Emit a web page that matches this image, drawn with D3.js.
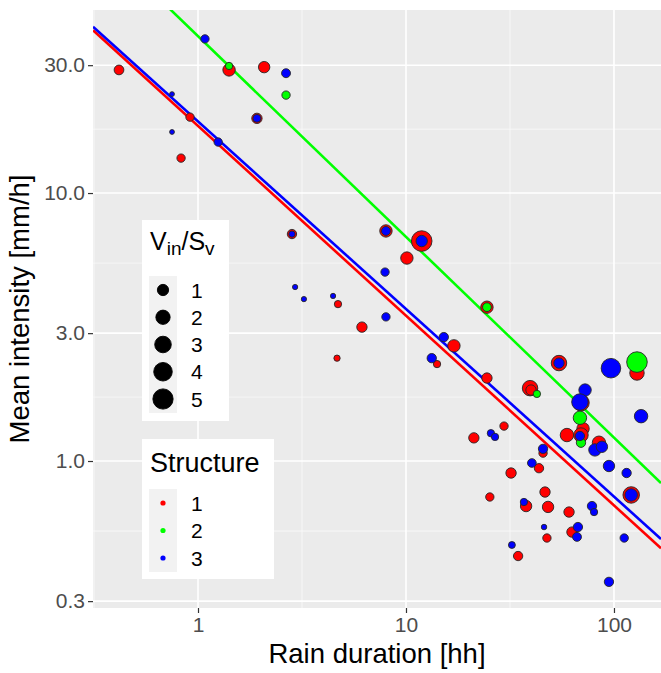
<!DOCTYPE html>
<html>
<head>
<meta charset="utf-8">
<script src="https://cdn.jsdelivr.net/npm/d3@7"></script>
<style>
  body { margin: 0; background: #fff; }
  text { font-family: "Liberation Sans", Arial, sans-serif; }
</style>
</head>
<body>
<div class="main"></div>
<script>
// rain events, one set of arrays per structure (duration hh, mean intensity mm/h, Vin/Sv)
const structures = ["1", "2", "3"];

const dur1 = [0.417, 0.829, 0.915, 1.41, 2.08, 1.92, 2.83, 4.71, 8.01, 11.9, 10.1, 6.14, 4.66, 24.5, 17.0, 14.1, 24.5, 54.4, 129, 39.5,
    39.9, 69.4, 29.6, 59.4, 71.0, 69.4, 84.7, 45.6, 43.6, 21.2, 32.0, 25.3, 46.6, 37.8, 48.2, 60.8, 47.6, 62.8, 34.6, 121];
const int1 = [28.8, 13.5, 19.2, 28.8, 29.5, 19.0, 7.03, 3.85, 7.22, 6.62, 5.72, 3.16, 2.42, 3.75, 2.69, 2.30, 2.04, 2.32, 2.13, 1.87,
    1.84, 1.65, 1.35, 1.25, 1.32, 1.25, 1.17, 1.07, 0.94, 1.22, 0.902, 0.734, 0.766, 0.679, 0.674, 0.645, 0.516, 0.543, 0.442, 0.747];
const vin1 = [0.81, 0.5, 0.5, 1.6, 1.27, 0.97, 0.71, 0.32, 1.6, 5.73, 1.6, 0.97, 0.18, 1.6, 1.6, 0.32, 0.97, 2.85, 2.4, 2.85,
    0.97, 3.35, 0.5, 1.98, 1.6, 2.4, 1.98, 0.5, 0.71, 0.97, 0.97, 0.5, 0.97, 1.27, 1.27, 0.97, 0.5, 0.97, 0.71, 3.35];

const dur2 = [1.41, 2.65, 24.5, 42.6, 129, 68.6, 69.4];
const int2 = [29.8, 23.2, 3.75, 1.78, 2.34, 1.45, 1.17];
const vin2 = [0.32, 0.5, 0.58, 0.32, 5.73, 1.98, 0.71];

const dur3 = [0.75, 0.75, 1.08, 1.25, 1.92, 2.65, 2.83, 2.93, 3.23, 4.46, 8.01, 11.9, 7.93, 8.01, 15.2, 13.3, 54.4, 96.7, 72.6, 68.6,
    135, 68.6, 81.0, 87.5, 45.6, 40.3, 94.6, 115, 25.6, 26.8, 36.9, 121, 78.4, 80.2, 46.1, 67.1, 66.4, 32.3, 112, 94.6];
const int3 = [23.4, 16.9, 37.6, 15.5, 19.0, 28.0, 7.03, 4.46, 4.02, 4.13, 7.22, 6.62, 5.07, 3.45, 2.90, 2.42, 2.32, 2.22, 1.84, 1.66,
    1.47, 1.24, 1.10, 1.13, 1.11, 0.983, 0.958, 0.902, 1.27, 1.23, 0.703, 0.747, 0.679, 0.645, 0.567, 0.567, 0.521, 0.486, 0.516, 0.354];
const vin3 = [0.05, 0.05, 0.5, 0.5, 0.42, 0.62, 0.18, 0.08, 0.08, 0.08, 0.62, 1.27, 0.5, 0.5, 0.71, 0.71, 0.97, 5.07, 1.6, 3.35,
    1.98, 0.71, 1.6, 1.27, 0.71, 0.58, 1.27, 0.71, 0.32, 0.32, 0.32, 1.6, 0.71, 0.32, 0.1, 0.71, 0.62, 0.26, 0.5, 0.71];

// power-law fits: I = a * D^b
const fitA = [17.8, 38.5, 18.5];
const fitB = [-0.708, -0.749, -0.700];

const xTicks = [1, 10, 100];
const yTicks = [0.3, 1, 3, 10, 30];
const sizeBreaks = [1, 2, 3, 4, 5];

const colors = ["#ff0000", "#00ff00", "#0000ff"];

const width = 661, height = 673;
const margin = { top: 10, right: 0, bottom: 65, left: 93 };

const x = d3.scaleLog().domain([0.3127, 168.3]).range([margin.left, width - margin.right]);
const y = d3.scaleLog().domain([0.2828, 48.2]).range([height - margin.bottom, margin.top]);
const r = d3.scalePow().exponent(0.5).domain([0, 6]).range([1.6, 10.5]);

const svg = d3.select(".main").append("svg")
    .attr("width", width)
    .attr("height", height);

svg.append("defs").append("clipPath").attr("id", "panel-clip")
    .append("rect")
    .attr("x", margin.left).attr("y", margin.top)
    .attr("width", width - margin.right - margin.left)
    .attr("height", height - margin.bottom - margin.top);

// panel + grid
svg.append("rect")
    .attr("x", margin.left).attr("y", margin.top)
    .attr("width", width - margin.right - margin.left)
    .attr("height", height - margin.bottom - margin.top)
    .attr("fill", "#ebebeb");

const mid = (a, b) => Math.sqrt(a * b);
const xMinor = [0.1, 1, 10, 100].map(d => mid(d, d * 10));
const yMinor = yTicks.slice(0, -1).map((d, i) => mid(d, yTicks[i + 1]));

const grid = svg.append("g").attr("clip-path", "url(#panel-clip)");
grid.selectAll(".xminor").data(xMinor).enter().append("line")
    .attr("x1", d => x(d)).attr("x2", d => x(d))
    .attr("y1", margin.top).attr("y2", height - margin.bottom)
    .attr("stroke", "#fafafa").attr("stroke-width", 0.8);
grid.selectAll(".yminor").data(yMinor).enter().append("line")
    .attr("y1", d => y(d)).attr("y2", d => y(d))
    .attr("x1", margin.left).attr("x2", width - margin.right)
    .attr("stroke", "#fafafa").attr("stroke-width", 0.8);
grid.selectAll(".xmajor").data(xTicks).enter().append("line")
    .attr("x1", d => x(d)).attr("x2", d => x(d))
    .attr("y1", margin.top).attr("y2", height - margin.bottom)
    .attr("stroke", "#fff").attr("stroke-width", 1.6);
grid.selectAll(".ymajor").data(yTicks).enter().append("line")
    .attr("y1", d => y(d)).attr("y2", d => y(d))
    .attr("x1", margin.left).attr("x2", width - margin.right)
    .attr("stroke", "#fff").attr("stroke-width", 1.6);

// axes
const xAxis = svg.append("g")
    .attr("transform", `translate(0,${height - margin.bottom})`)
    .call(d3.axisBottom(x).tickValues(xTicks).tickFormat(d3.format("d")).tickSize(5).tickPadding(4));
const yAxis = svg.append("g")
    .attr("transform", `translate(${margin.left},0)`)
    .call(d3.axisLeft(y).tickValues(yTicks).tickFormat(d3.format(".1f")).tickSize(5).tickPadding(3));

[xAxis, yAxis].forEach(ax => {
    ax.select(".domain").remove();
    ax.selectAll(".tick line").attr("stroke", "#333").attr("stroke-width", 1.2);
    ax.selectAll(".tick text")
        .attr("fill", "#4d4d4d")
        .style("font-size", "21px")
        .style("font-family", "'Liberation Sans', Arial, sans-serif");
});

svg.append("text")
    .attr("x", (margin.left + width - margin.right) / 2)
    .attr("y", 663)
    .attr("text-anchor", "middle")
    .style("font-size", "27.5px")
    .text("Rain duration [hh]");

svg.append("text")
    .attr("transform", `translate(29,${(margin.top + height - margin.bottom) / 2}) rotate(-90)`)
    .attr("text-anchor", "middle")
    .style("font-size", "27.5px")
    .text("Mean intensity [mm/h]");

// fit lines, then points on top
const sets = [
    { dur: dur1, int: int1, vin: vin1 },
    { dur: dur2, int: int2, vin: vin2 },
    { dur: dur3, int: int3, vin: vin3 }
];

const lines = svg.append("g").attr("clip-path", "url(#panel-clip)");
const lineGen = d3.line().x(d => x(d[0])).y(d => y(d[1]));
[0, 2, 1].forEach(i => {
    const ends = x.domain().map(dx => [dx, fitA[i] * Math.pow(dx, fitB[i])]);
    lines.append("path")
        .attr("d", lineGen(ends))
        .attr("fill", "none")
        .attr("stroke", colors[i])
        .attr("stroke-width", 2.6);
});

const pts = svg.append("g").attr("clip-path", "url(#panel-clip)");
sets.forEach((s, i) => {
    pts.selectAll(".pt" + i)
        .data(d3.range(s.dur.length))
        .enter().append("circle")
        .attr("cx", j => x(s.dur[j]))
        .attr("cy", j => y(s.int[j]))
        .attr("r", j => r(s.vin[j]))
        .attr("fill", colors[i])
        .attr("stroke", "#262626")
        .attr("stroke-width", 0.9);
});

// size legend
const leg1 = svg.append("g");
leg1.append("rect").attr("x", 142).attr("y", 220).attr("width", 87).attr("height", 201).attr("fill", "#fff");
const title1 = leg1.append("text").attr("x", 150).attr("y", 250).style("font-size", "25px");
title1.append("tspan").text("V");
title1.append("tspan").attr("dy", 5).style("font-size", "19px").text("in");
title1.append("tspan").attr("dy", -5).text("/S");
title1.append("tspan").attr("dy", 5).style("font-size", "19px").text("v");
leg1.append("rect").attr("x", 149).attr("y", 276).attr("width", 28).attr("height", 137).attr("fill", "#f2f2f2");
const keyY1 = d3.scaleLinear().domain([1, 5]).range([290, 399]);
leg1.selectAll(".k").data(sizeBreaks).enter().append("circle")
    .attr("cx", 163).attr("cy", d => keyY1(d)).attr("r", d => r(d) + 0.4)
    .attr("fill", "#000").attr("stroke", "#000").attr("stroke-width", 0.9);
leg1.selectAll(".l").data(sizeBreaks).enter().append("text")
    .attr("x", 191).attr("y", d => keyY1(d)).attr("dy", "0.36em")
    .style("font-size", "21px").text(d => d);

// structure legend
const leg2 = svg.append("g");
leg2.append("rect").attr("x", 142).attr("y", 439).attr("width", 132).attr("height", 140).attr("fill", "#fff");
leg2.append("text").attr("x", 150).attr("y", 472).style("font-size", "27px").text("Structure");
leg2.append("rect").attr("x", 149).attr("y", 489).attr("width", 28).attr("height", 83).attr("fill", "#f2f2f2");
const keyY2 = d3.scalePoint().domain(structures).range([503, 558]);
leg2.selectAll(".k").data(structures).enter().append("circle")
    .attr("cx", 163).attr("cy", d => keyY2(d)).attr("r", 2.6)
    .attr("fill", (d, i) => colors[i]);
leg2.selectAll(".l").data(structures).enter().append("text")
    .attr("x", 191).attr("y", d => keyY2(d)).attr("dy", "0.36em")
    .style("font-size", "21px").text(d => d);
</script>
</body>
</html>
